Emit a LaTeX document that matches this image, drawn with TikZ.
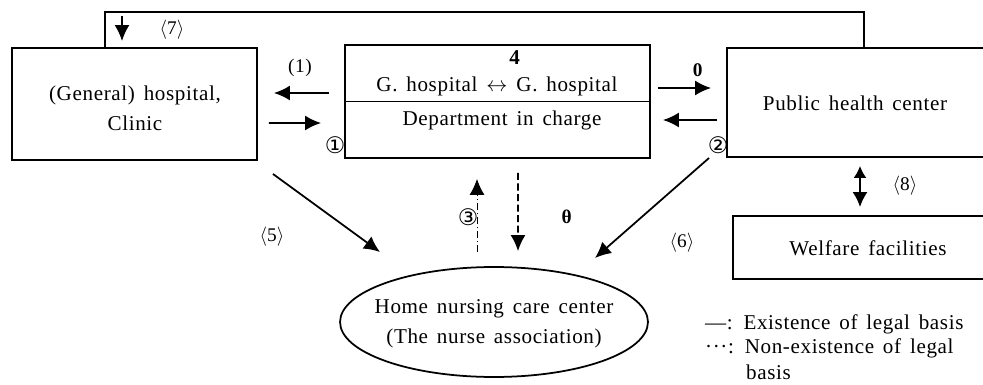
\documentclass[tikz,border=0pt]{standalone}
\usepackage{fontspec}
\setmainfont{Liberation Serif}[WordSpace=1.5, LetterSpace=3]
\newfontfamily\circfont{DejaVu Sans}
\usetikzlibrary{shapes.geometric, arrows.meta, positioning, calc}
\tikzset{
  box/.style={rectangle, draw=black, line width=1.1pt, inner sep=0pt},
  oval/.style={ellipse, draw=black, line width=1pt, minimum width=6.16cm,
    minimum height=2.2cm, inner sep=0pt},
  txt/.style={font=\fontsize{12}{17}\selectfont, align=center, inner sep=1pt},
  lb/.style={font=\fontsize{11}{13}\selectfont, inner sep=1pt},
  ar/.style={-{Latex[length=3.2mm,width=3mm]}, line width=1pt},
  ar2/.style={{Latex[length=2.4mm,width=2.6mm]}-{Latex[length=3mm,width=3mm]}, line width=1pt},
  dar/.style={ar, line width=1.1pt, dash pattern=on 4pt off 2pt},
  tdar/.style={ar, line width=0.5pt, dash pattern=on 4pt off 1.5pt on 1pt off 1.5pt},
  ln/.style={line width=1.1pt},
}
\newcommand{\CN}[1]{{\circfont\fontsize{13}{15}\selectfont #1}}
\newcommand{\AB}[1]{\ensuremath{\langle}#1\ensuremath{\rangle}}

\begin{document}
\begin{tikzpicture}[x=0.02cm, y=-0.02cm]
\useasboundingbox (0,0) rectangle (983,385);

% boxes
\node[box, minimum width=4.9cm, minimum height=2.24cm] (LB) at (134.5,104) {};
\node[box, minimum width=6.1cm, minimum height=2.26cm] (CB) at (497.5,101.5) {};
\node[box, minimum width=5.16cm, minimum height=2.18cm] (PHC) at (856,102.5) {};
\node[box, minimum width=5.04cm, minimum height=1.26cm] (WF) at (859,247.5) {};
\node[oval] (EL) at (494,322) {};

\draw[ln] (CB.west) -- (CB.east);

% texts
\node[txt] (LBt) at (135,108) {(General) hospital,\\Clinic};
\node[txt] (CBg) at (515,58) {\textbf{4}};
\node[txt] (CBu) at (497,86) {G. hospital $\leftrightarrow$ G. hospital};
\node[txt] (CBl) at (502,120) {Department in charge};
\node[txt] (PHCt) at (855,103) {Public health center};
\node[txt] (WFt) at (868,248) {Welfare facilities};
\node[txt] (ELt) at (494,324) {Home nursing care center\\(The nurse association)};

% labels
\node[lb] (l7) at (172,30) {\AB{7}};
\node[lb] (l1) at (300,68) {(1)};
\node[lb] (c1) at (335,145) {\CN{①}};
\node[lb] (g2) at (698,70) {\textbf{0}};
\node[lb] (c2) at (718,145) {\CN{②}};
\node[lb] (l8) at (905,186) {\AB{8}};
\node[lb] (l5) at (272,237) {\AB{5}};
\node[lb] (c3) at (468,217) {\CN{③}};
\node[lb] (g3) at (567,217) {\textbf{θ}};
\node[lb] (l6) at (682,243) {\AB{6}};

% legend
\node[txt, anchor=west] (lg1) at (703,324) {—: Existence of legal basis};
\node[txt, anchor=west] (lg2) at (703,348) {···: Non-existence of legal};
\node[txt, anchor=west] (lg3) at (744,372) {basis};

% connectors
\draw[ln] ([shift={(-29.5,0)}]LB.north) -- ++(0,-35) -| ([shift={(8,0)}]PHC.north);
\draw[ar] ([shift={(-12.5,-31)}]LB.north) -- ([shift={(-12.5,-6)}]LB.north);
\draw[ar] ([shift={(-15,-8.5)}]CB.west) -- ([shift={(16,-11)}]LB.east);
\draw[ar] ([shift={(11,19)}]LB.east) -- ([shift={(-23,21.5)}]CB.west);
\draw[ar] ([shift={(7,-13.5)}]CB.east) -- ([shift={(-15,-14.5)}]PHC.west);
\draw[ar] ([shift={(-9,17.5)}]PHC.west) -- ([shift={(12,18.5)}]CB.east);
\draw[ar2] ([shift={(4,8)}]PHC.south) -- ([shift={(1,-8)}]WF.north);
\draw[ar] ([shift={(15,13)}]LB.south east) -- ([shift={(-114,-70)}]EL.center);
\draw[tdar] ([shift={(-17,-14)}]EL.north) -- ([shift={(-20.5,20)}]CB.south);
\draw[dar] ([shift={(20.5,14)}]CB.south) -- ([shift={(24,-15)}]EL.north);
\draw[ar] ([shift={(-17,0)}]PHC.south west) -- ([shift={(101,-64)}]EL.center);

\end{tikzpicture}
\end{document}
